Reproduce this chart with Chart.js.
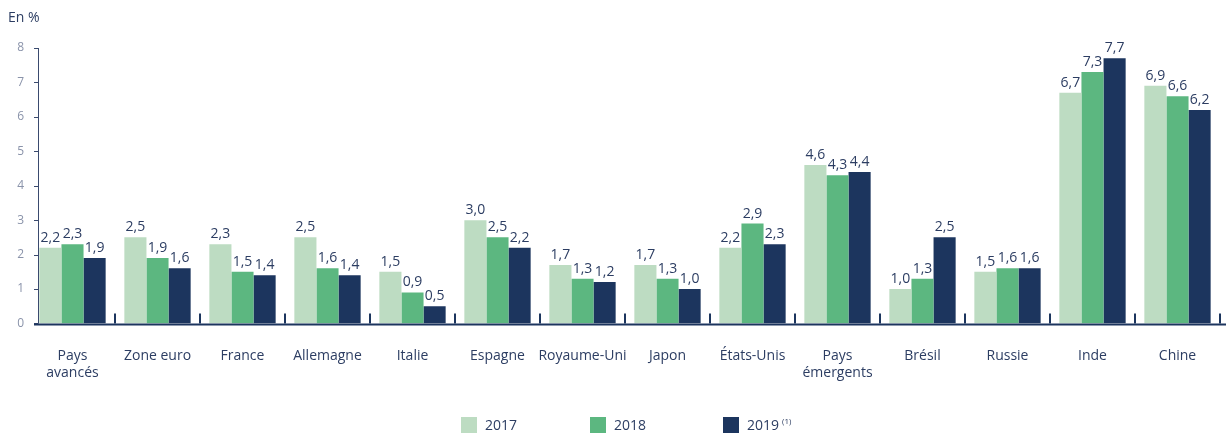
<!DOCTYPE html>
<html>
<head>
<meta charset="utf-8">
<script src="https://cdn.jsdelivr.net/npm/chart.js@4"></script>
<style>
  html, body { margin: 0; padding: 0; background: #fff; }
  #wrap { position: relative; width: 1229px; height: 433px; }
</style>
</head>
<body>
<div id="wrap"><canvas id="chart"></canvas></div>
<script>
// Categories and series values (en %)
const categories = [
  ['Pays', 'avancés'], 'Zone euro', 'France', 'Allemagne', 'Italie', 'Espagne',
  'Royaume-Uni', 'Japon', 'États-Unis', ['Pays', 'émergents'], 'Brésil', 'Russie', 'Inde', 'Chine'
];
const values2017 = [2.2, 2.5, 2.3, 2.5, 1.5, 3.0, 1.7, 1.7, 2.2, 4.6, 1.0, 1.5, 6.7, 6.9];
const values2018 = [2.3, 1.9, 1.5, 1.6, 0.9, 2.5, 1.3, 1.3, 2.9, 4.3, 1.3, 1.6, 7.3, 6.6];
const values2019 = [1.9, 1.6, 1.4, 1.4, 0.5, 2.2, 1.2, 1.0, 2.3, 4.4, 2.5, 1.6, 7.7, 6.2];
const seriesLabels = ['2017', '2018', '2019'];
const seriesNotes = ['', '', '(1)'];
const yTicks = [0, 1, 2, 3, 4, 5, 6, 7, 8];

const NAVY = '#1c355e';
const TEXT = '#2c3d62';
const GREY = '#8a93aa';
const FONT = "'Open Sans', sans-serif";

const formatFr = (v) => v.toFixed(1).replace('.', ',');

// Draws the axes, small ticks, value labels, legend and the "En %" caption
const decorPlugin = {
  id: 'decor',
  afterDatasetsDraw(chart) {
    const ctx = chart.ctx;
    const y = chart.scales.y;
    const area = chart.chartArea;
    const axisX = area.left + 8;

    ctx.save();
    // value labels above bars
    ctx.fillStyle = TEXT;
    ctx.font = `14px ${FONT}`;
    ctx.textAlign = 'center';
    ctx.textBaseline = 'bottom';
    chart.data.datasets.forEach((ds, i) => {
      chart.getDatasetMeta(i).data.forEach((bar, j) => {
        ctx.fillText(formatFr(ds.data[j]), bar.x, bar.y - 3);
      });
    });

    // y axis line and ticks
    ctx.strokeStyle = '#3a4a6e';
    ctx.lineWidth = 1;
    ctx.beginPath();
    ctx.moveTo(axisX + 0.5, y.getPixelForValue(8));
    ctx.lineTo(axisX + 0.5, y.getPixelForValue(0));
    yTicks.forEach(t => {
      const py = Math.round(y.getPixelForValue(t)) + 0.5;
      ctx.moveTo(axisX - 4, py);
      ctx.lineTo(axisX + 0.5, py);
    });
    ctx.stroke();

    ctx.fillStyle = GREY;
    ctx.font = `12px ${FONT}`;
    ctx.textAlign = 'right';
    ctx.textBaseline = 'middle';
    yTicks.forEach(t => ctx.fillText(String(t), axisX - 14, y.getPixelForValue(t)));

    // x axis line with boundary ticks
    const base = y.getPixelForValue(0);
    ctx.strokeStyle = NAVY;
    ctx.lineWidth = 2;
    ctx.beginPath();
    ctx.moveTo(axisX - 4, base + 1);
    ctx.lineTo(area.right + 6, base + 1);
    ctx.stroke();
    const step = (area.right - area.left) / categories.length;
    ctx.beginPath();
    for (let k = 1; k <= categories.length; k++) {
      const bx = area.left + step * k;
      ctx.moveTo(bx, base);
      ctx.lineTo(bx, base - 10);
    }
    ctx.stroke();

    // legend
    const legendX = [461, 590, 723];
    const legendY = 426;
    chart.data.datasets.forEach((ds, i) => {
      ctx.fillStyle = ds.backgroundColor;
      ctx.fillRect(legendX[i], legendY - 9, 16, 17);
      ctx.fillStyle = TEXT;
      ctx.font = `14px ${FONT}`;
      ctx.textAlign = 'left';
      ctx.textBaseline = 'middle';
      ctx.fillText(ds.label, legendX[i] + 24, legendY);
      if (seriesNotes[i]) {
        const w = ctx.measureText(ds.label).width;
        ctx.font = `8px ${FONT}`;
        ctx.fillText(seriesNotes[i], legendX[i] + 24 + w + 3, legendY - 4);
      }
    });

    // unit caption
    ctx.fillStyle = TEXT;
    ctx.font = `14px ${FONT}`;
    ctx.textAlign = 'left';
    ctx.textBaseline = 'middle';
    ctx.fillText('En %', 8, 18);
    ctx.restore();
  }
};

new Chart(document.getElementById('chart'), {
  type: 'bar',
  data: {
    labels: categories,
    datasets: [
      { label: seriesLabels[0], data: values2017, backgroundColor: '#bddcc2' },
      { label: seriesLabels[1], data: values2018, backgroundColor: '#5cb780' },
      { label: seriesLabels[2], data: values2019, backgroundColor: NAVY }
    ]
  },
  options: {
    responsive: true,
    maintainAspectRatio: false,
    animation: false,
    layout: { padding: { top: 48, left: 30, right: 9, bottom: 36 } },
    datasets: { bar: { categoryPercentage: 0.78, barPercentage: 1 } },
    scales: {
      x: {
        grid: { display: false },
        border: { display: false },
        ticks: { color: TEXT, font: { family: FONT, size: 14 }, padding: 16, maxRotation: 0, autoSkip: false }
      },
      y: {
        display: false,
        min: 0,
        max: 8
      }
    },
    plugins: {
      legend: { display: false },
      tooltip: { enabled: false }
    }
  },
  plugins: [decorPlugin]
});
</script>
</body>
</html>
